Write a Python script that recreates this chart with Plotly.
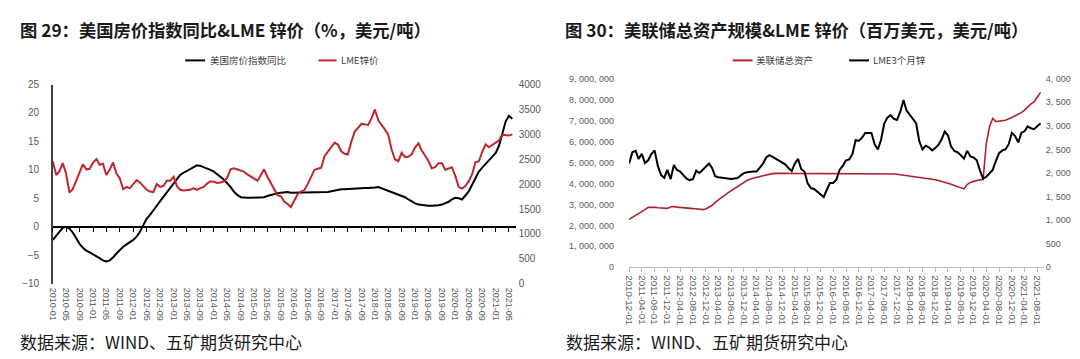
import pandas as pd
import plotly.graph_objects as go

# ---------------- data: left panel (monthly, 2010-01 .. 2021-06) ----------------
left_months = pd.date_range("2010-01-01", periods=138, freq="MS")
hpi_yoy = [
    -2.3, -1.5, -0.8, -0.2, 0.0, -0.3, -1.0, -2.0, -3.0, -3.7, -4.2, -4.5,
    -4.8, -5.1, -5.5, -5.9, -6.1, -5.9, -5.4, -4.7, -4.0, -3.5, -3.1, -2.7,
    -2.3, -1.7, -0.9, 0.3, 1.4, 2.1, 2.8, 3.7, 4.5, 5.3, 6.0, 6.9,
    7.7, 8.5, 9.1, 9.5, 9.8, 10.2, 10.5, 10.8, 10.7, 10.5, 10.2, 10.0,
    9.7, 9.3, 8.8, 8.3, 7.7, 7.0, 6.2, 5.6, 5.2, 5.1, 5.1, 5.1,
    5.1, 5.1, 5.1, 5.2, 5.4, 5.6, 5.8, 5.9, 6.0, 6.1, 6.1, 6.0,
    6.0, 6.0, 6.0, 6.0, 6.0, 6.0, 6.0, 6.0, 6.0, 6.0, 6.1, 6.25,
    6.4, 6.5, 6.6, 6.6, 6.65, 6.7, 6.7, 6.7, 6.75, 6.8, 6.8, 6.8,
    6.9, 7.0, 6.8, 6.5, 6.3, 6.1, 5.9, 5.7, 5.5, 5.2, 4.8, 4.4,
    4.1, 3.9, 3.8, 3.75, 3.7, 3.7, 3.7, 3.8, 3.9, 4.1, 4.4, 4.8,
    5.1, 5.0, 4.8, 5.5, 6.2, 7.4, 8.5, 9.7, 10.4, 11.0, 11.6, 12.3,
    13.0, 14.3, 16.5, 18.5, 19.5, 19.0,
]
lme_zinc = [
    2457, 2183, 2251, 2423, 2217, 1829, 1897, 2057, 2229, 2400, 2297, 2309,
    2434, 2503, 2389, 2411, 2183, 2286, 2434, 2217, 2114, 1897, 1943, 1920,
    2000, 2080, 2034, 1966, 1886, 1851, 1840, 2000, 1943, 1966, 2069, 2069,
    2149, 1954, 1886, 1874, 1874, 1886, 1920, 1886, 1920, 1943, 2011, 2057,
    2046, 2023, 2034, 2057, 2126, 2297, 2320, 2297, 2274, 2251, 2194, 2149,
    2114, 2069, 2171, 2297, 2149, 2023, 1880, 1780, 1755, 1650, 1600, 1540,
    1670, 1800, 1850, 1880, 2000, 2150, 2285, 2310, 2330, 2560, 2660, 2750,
    2835, 2790, 2660, 2610, 2595, 2850, 3050, 3130, 3210, 3200, 3190, 3320,
    3500, 3280, 3200, 3100, 3000, 2700, 2500, 2460, 2630, 2545, 2550, 2600,
    2740, 2820, 2680, 2560, 2470, 2320, 2340, 2420, 2420, 2290, 2320, 2340,
    2160, 1940, 1910, 1960, 2060, 2200, 2440, 2460, 2650, 2800, 2740, 2780,
    2830, 2880, 2990, 2980, 2975, 3000,
]

# ---------------- data: right panel (monthly, 2010-12 .. 2021-09) ----------------
right_months = pd.date_range("2010-12-01", periods=130, freq="MS")
fed_assets = [
    2290000, 2380000, 2480000, 2560000, 2650000, 2750000, 2860000, 2870000, 2860000, 2840000,
    2820000, 2800000, 2810000, 2880000, 2900000, 2870000, 2850000, 2840000, 2830000, 2810000,
    2800000, 2790000, 2770000, 2750000, 2780000, 2860000, 2960000, 3100000, 3230000, 3340000,
    3440000, 3550000, 3650000, 3760000, 3870000, 3980000, 4080000, 4150000, 4210000, 4260000,
    4290000, 4330000, 4370000, 4410000, 4450000, 4470000, 4480000, 4490000, 4490000, 4490000,
    4480000, 4480000, 4480000, 4470000, 4470000, 4470000, 4470000, 4460000, 4460000, 4470000,
    4470000, 4470000, 4470000, 4470000, 4470000, 4470000, 4470000, 4470000, 4470000, 4470000,
    4470000, 4470000, 4470000, 4470000, 4470000, 4470000, 4460000, 4460000, 4460000, 4460000,
    4460000, 4450000, 4450000, 4450000, 4440000, 4420000, 4400000, 4380000, 4360000, 4340000,
    4320000, 4300000, 4280000, 4260000, 4240000, 4210000, 4180000, 4140000, 4100000, 4060000,
    4020000, 3960000, 3900000, 3840000, 3780000, 3740000, 3950000, 4050000, 4100000, 4150000,
    4180000, 4180000, 5900000, 6700000, 7100000, 6950000, 6960000, 7000000, 7020000, 7070000,
    7150000, 7230000, 7300000, 7380000, 7500000, 7650000, 7800000, 7900000, 8100000, 8350000,
]
lme_zinc_3m = [
    2202, 2441, 2470, 2300, 2407, 2210, 2270, 2400, 2480, 2150,
    1960, 1900, 2065, 1870, 2168, 2065, 2031, 1950, 1880, 1850,
    1870, 2050, 2000, 2065, 2133, 2200, 2100, 1930, 1910, 1900,
    1894, 1880, 1873, 1885, 1894, 1950, 1997, 2015, 2031, 2031,
    2031, 2120, 2200, 2330, 2380, 2340, 2300, 2270, 2230, 2180,
    2100, 2040, 2200, 2300, 2080, 2031, 1780, 1680, 1660, 1600,
    1550, 1490, 1650, 1790, 1790, 1860, 2065, 2150, 2270, 2290,
    2400, 2700, 2680, 2750, 2851, 2851, 2851, 2612, 2500, 2700,
    3050, 3180, 3227, 3150, 3125, 3300, 3550, 3330, 3250, 3150,
    3056, 2680, 2500, 2580, 2544, 2480, 2530, 2600, 2720, 2880,
    2800, 2560, 2470, 2441, 2380, 2304, 2470, 2350, 2330, 2270,
    2050, 1880, 1920, 1990, 2065, 2250, 2420, 2480, 2500, 2612,
    2851, 2783, 2646, 2851, 2885, 2990, 2950, 2930, 2988, 3056,
]

# axis tick labels
fed_tickvals = [0, 1000000, 2000000, 3000000, 4000000, 5000000, 6000000, 7000000, 8000000, 9000000]
fed_ticktext = ["0", "1, 000, 000", "2, 000, 000", "3, 000, 000", "4, 000, 000",
                "5, 000, 000", "6, 000, 000", "7, 000, 000", "8, 000, 000", "9, 000, 000"]
zinc_tickvals = [0, 500, 1000, 1500, 2000, 2500, 3000, 3500, 4000]
zinc_ticktext = ["0", "500", "1, 000", "1, 500", "2, 000", "2, 500", "3, 000", "3, 500", "4, 000"]

left_title = "图 29：美国房价指数同比&LME 锌价（%，美元/吨）"
right_title = "图 30：美联储总资产规模&LME 锌价（百万美元，美元/吨）"
source_text = "数据来源：WIND、五矿期货研究中心"
names = ["美国房价指数同比", "LME锌价", "美联储总资产", "LME3个月锌"]

# ---------------- layout helpers ----------------
W, H = 1080, 359
fx = lambda p: p / W
fy = lambda p: 1 - p / H

RED_L = "#C0262D"
RED_R = "#B2202F"
TICK_C = "#595959"
NUMFONT = "Liberation Sans, Arial, sans-serif"
CJK = "Noto Sans CJK SC, sans-serif"

fig = go.Figure()

# left panel
fig.add_trace(go.Scatter(x=left_months, y=hpi_yoy, name=names[0], mode="lines",
                         line=dict(color="#000000", width=2), xaxis="x", yaxis="y"))
fig.add_trace(go.Scatter(x=left_months, y=lme_zinc, name=names[1], mode="lines",
                         line=dict(color=RED_L, width=2), xaxis="x", yaxis="y2"))
# helper trace for the zero-crossing category axis line
fig.add_trace(go.Scatter(x=[left_months[0]], y=[None], xaxis="x5", yaxis="y",
                         hoverinfo="skip", mode="lines"))

# right panel
fig.add_trace(go.Scatter(x=right_months, y=fed_assets, name=names[2], mode="lines",
                         line=dict(color=RED_R, width=1.6), xaxis="x2", yaxis="y3"))
fig.add_trace(go.Scatter(x=right_months, y=lme_zinc_3m, name=names[3], mode="lines",
                         line=dict(color="#000000", width=2), xaxis="x2", yaxis="y4"))

tickfont = dict(family=NUMFONT, size=10, color=TICK_C)
rfont = dict(family=NUMFONT, size=9, color=TICK_C)

L_dom_x = [fx(40), fx(505)]
L_dom_y = [fy(279), fy(73)]
R_dom_x = [fx(619), fx(1035.5)]
R_dom_y = [fy(262), fy(67)]
L_range = ["2010-01-01", "2021-07-01"]
R_range = ["2010-12-01", "2021-10-01"]
zero_pos = L_dom_y[0] + (0 - (-10)) / 35 * (L_dom_y[1] - L_dom_y[0])

fig.update_layout(
    width=W, height=H,
    margin=dict(l=0, r=0, t=0, b=0),
    paper_bgcolor="white", plot_bgcolor="white",
    font=dict(family=CJK, color="#404040"),
    showlegend=False,
    xaxis=dict(domain=L_dom_x, anchor="y", type="date", range=L_range,
               tick0="2010-01-01", dtick="M4", tickformat="%Y-%m", tickangle=90,
               showline=False, ticks="", showgrid=False, zeroline=False,
               tickfont=dict(family=NUMFONT, size=9, color=TICK_C), ticklabelstandoff=3),
    xaxis5=dict(overlaying="x", anchor="free", position=zero_pos, type="date",
                range=L_range, tick0="2010-01-01", dtick="M4",
                showline=True, linecolor="#000000", linewidth=1.5,
                ticks="outside", ticklen=4, tickcolor="#000000", tickwidth=1,
                showticklabels=False, showgrid=False, zeroline=False),
    yaxis=dict(domain=L_dom_y, anchor="x", range=[-10, 25], dtick=5,
               showline=True, linecolor="#404040", linewidth=1.5,
               showgrid=False, zeroline=False, ticks="",
               tickfont=tickfont, ticklabelstandoff=10),
    yaxis2=dict(overlaying="y", side="right", anchor="x", range=[0, 4000], dtick=500,
                showline=False, showgrid=False, zeroline=False, ticks="",
                tickfont=tickfont, ticklabelstandoff=2),
    xaxis2=dict(domain=R_dom_x, anchor="y3", type="date", range=R_range,
                tick0="2010-12-01", dtick="M4", tickformat="%Y-%m-%d", tickangle=90,
                showline=True, linecolor="#BFBFBF", linewidth=1,
                ticks="outside", ticklen=4, tickcolor="#BFBFBF",
                showgrid=False, zeroline=False,
                tickfont=dict(family=NUMFONT, size=9.8, color=TICK_C), ticklabelstandoff=1),
    yaxis3=dict(domain=R_dom_y, anchor="x2", range=[0, 9000000],
                tickmode="array", tickvals=fed_tickvals, ticktext=fed_ticktext,
                showline=False, showgrid=False, zeroline=False, ticks="",
                tickfont=rfont, ticklabelstandoff=14),
    yaxis4=dict(overlaying="y3", side="right", anchor="x2", range=[0, 4000],
                tickmode="array", tickvals=zinc_tickvals, ticktext=zinc_ticktext,
                showline=False, showgrid=False, zeroline=False, ticks="",
                tickfont=rfont, ticklabelstandoff=1),
)

# legends (line sample + label), placed like the original's
legend_items = [
    (173, 193, 197, names[0], "#000000"),
    (307, 325, 329, names[1], RED_L),
    (723, 743, 745, names[2], RED_R),
    (840, 860, 863, names[3], "#000000"),
]
shapes = []
annotations = []
LEG_Y = 48
for x0, x1, xt, label, col in legend_items:
    shapes.append(dict(type="line", xref="paper", yref="paper", x0=fx(x0), x1=fx(x1),
                       y0=fy(LEG_Y), y1=fy(LEG_Y), line=dict(color=col, width=2)))
    annotations.append(dict(text=label, x=fx(xt), y=fy(LEG_Y), xref="paper", yref="paper",
                            xanchor="left", yanchor="middle", showarrow=False, borderpad=0,
                            font=dict(family=CJK, size=9.5, color="#404040")))

annotations += [
    dict(text="<b>" + left_title + "</b>", x=fx(5), y=fy(16), xref="paper", yref="paper",
         xanchor="left", yanchor="middle", showarrow=False,
         font=dict(family=CJK, size=17.3, color="#1A1A1A")),
    dict(text="<b>" + right_title + "</b>", x=fx(553), y=fy(16), xref="paper", yref="paper",
         xanchor="left", yanchor="middle", showarrow=False,
         font=dict(family=CJK, size=17.3, color="#1A1A1A")),
    dict(text=source_text, x=fx(5), y=fy(339), xref="paper", yref="paper",
         xanchor="left", yanchor="middle", showarrow=False,
         font=dict(family=CJK, size=17, color="#1A1A1A")),
    dict(text=source_text, x=fx(554), y=fy(339), xref="paper", yref="paper",
         xanchor="left", yanchor="middle", showarrow=False,
         font=dict(family=CJK, size=17, color="#1A1A1A")),
]
fig.update_layout(shapes=shapes, annotations=annotations)

fig.write_html("out.html")
